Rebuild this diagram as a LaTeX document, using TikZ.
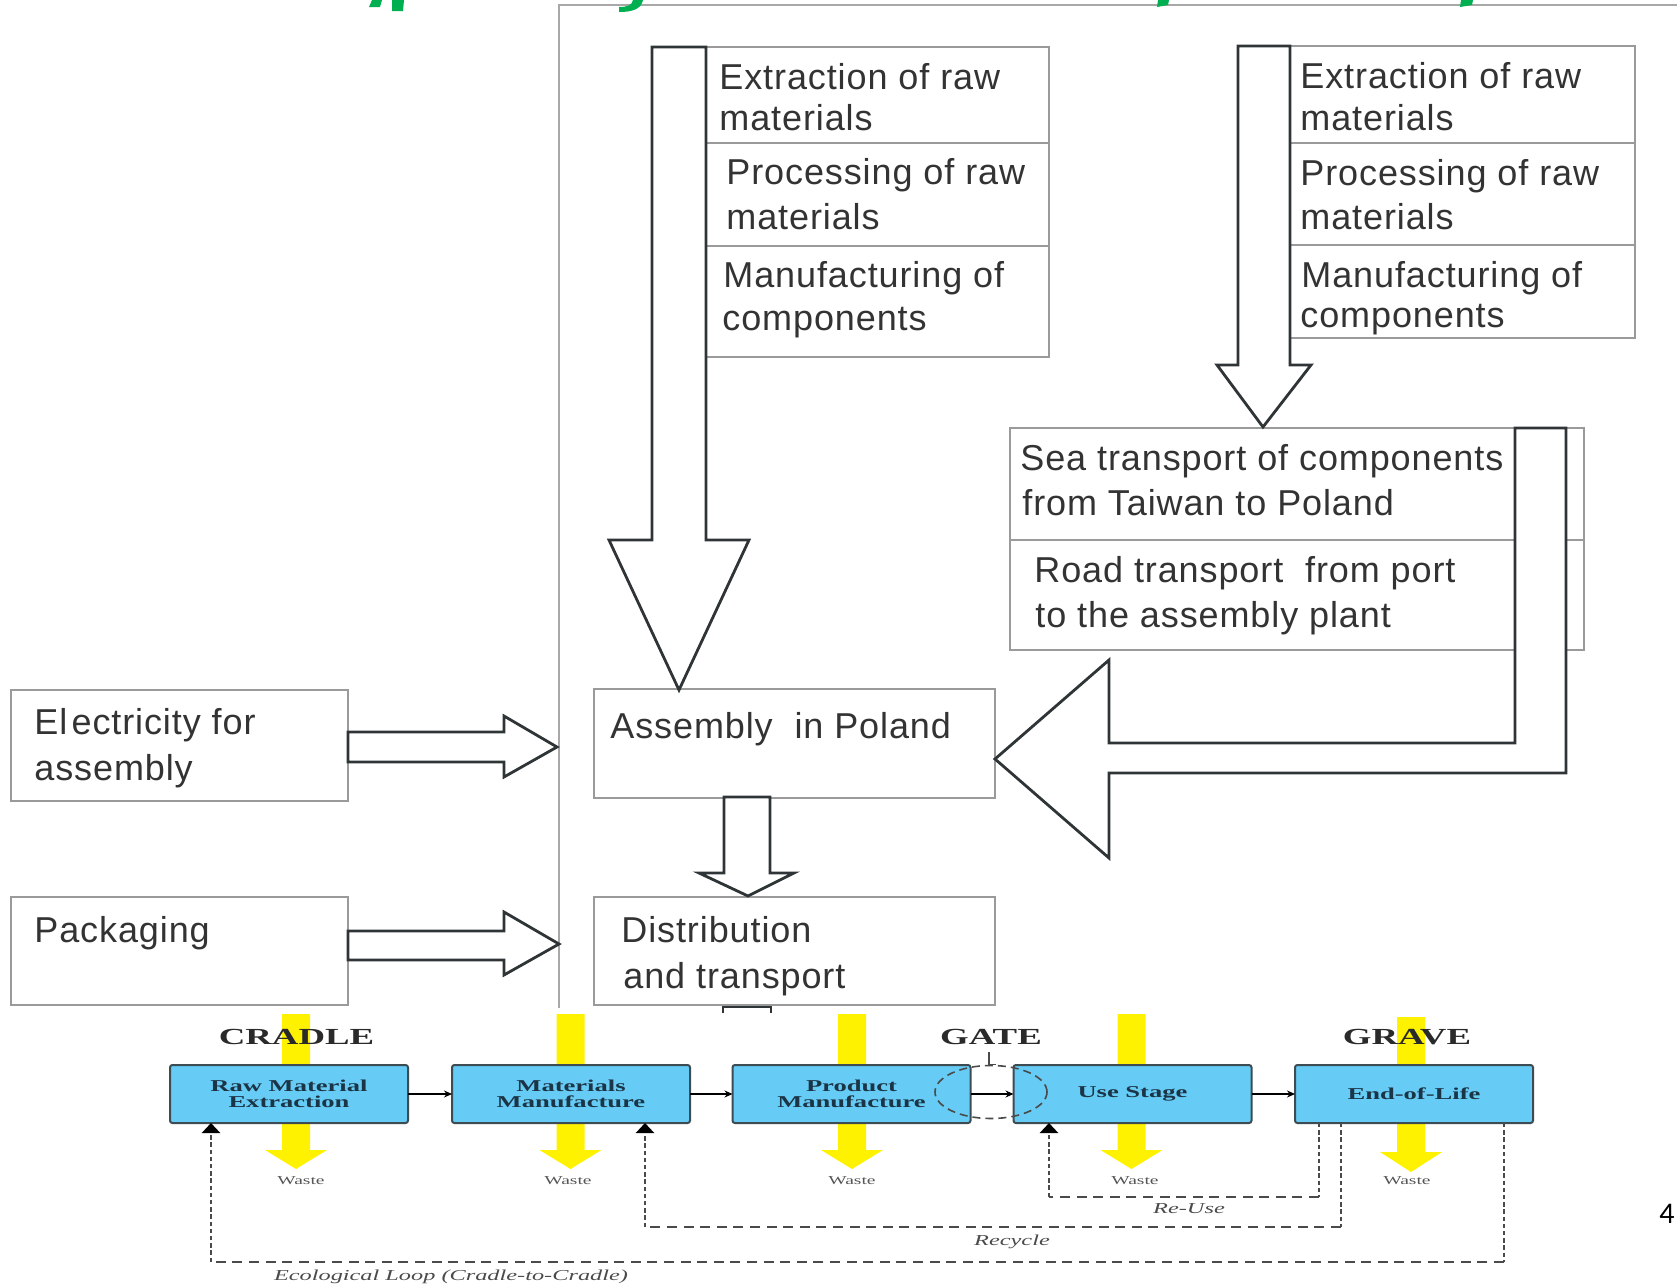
\documentclass[tikz,border=0pt]{standalone}
\usepackage{fontspec}
\usetikzlibrary{arrows.meta,shapes.geometric,fit,calc}
\newfontfamily\upfont{Liberation Sans}[LetterSpace=2.5]
\newfontfamily\lcafont{Liberation Serif}[FakeStretch=1.6]
\newfontfamily\pgnumfont{Carlito}
\definecolor{framegray}{HTML}{A8A8A8}
\definecolor{boxgray}{HTML}{9A9A9A}
\definecolor{arrowdark}{HTML}{2F3436}
\definecolor{txtgray}{HTML}{333333}
\definecolor{titlegreen}{HTML}{00B050}
\definecolor{lcablue}{HTML}{66CCF5}
\definecolor{lcaborder}{HTML}{3D4B53}
\definecolor{lcatext}{HTML}{1B3446}
\definecolor{lcayellow}{HTML}{FFF200}
\definecolor{loopgray}{HTML}{4A4A4A}
\definecolor{headgray}{HTML}{2A2A2A}
\definecolor{wastegray}{HTML}{555555}
\begin{document}
\begin{tikzpicture}[x=0.5pt,y=-0.5pt,
 ubox/.style={draw=boxgray, line width=1pt, inner sep=0pt, outer sep=0pt},
 sepline/.style={draw=boxgray, line width=1pt},
 blockarrow/.style={draw=arrowdark, fill=white, line width=1.4pt, line join=miter},
 utext/.style={font=\upfont\fontsize{18}{21}\selectfont, text=txtgray, inner sep=0pt, anchor=base west},
 framestyle/.style={draw=framegray, line width=1pt},
 lcabox/.style={draw=lcaborder, fill=lcablue, line width=1pt, rounded corners=1.2pt, minimum width=119pt, minimum height=29pt, inner sep=0pt, outer sep=0pt, align=center, font=\lcafont\bfseries\fontsize{8.3}{8}\selectfont, text=lcatext},
 lcahead/.style={font=\lcafont\bfseries\fontsize{11.5}{12}\selectfont, text=headgray, inner sep=0pt, anchor=base},
 lcawaste/.style={font=\lcafont\fontsize{6.1}{7}\selectfont, text=wastegray, inner sep=0pt, anchor=base},
 lcaloop/.style={font=\lcafont\itshape\fontsize{7.6}{8}\selectfont, text=loopgray, inner sep=0pt, anchor=base},
 flow/.style={draw=black, line width=0.8pt, -{Stealth[length=4pt,width=3.5pt]}},
 loopv/.style={draw=loopgray, line width=1.4pt, dash pattern=on 2.2pt off 1.4pt},
 looph/.style={draw=loopgray, line width=1pt, dash pattern=on 5pt off 3.3pt},
 looptip/.style={-{Triangle[width=9pt,length=5pt,black]}},
 gateell/.style={ellipse, draw=loopgray, line width=0.8pt, dash pattern=on 4pt off 2.5pt, minimum width=56pt, minimum height=26.5pt, inner sep=0pt},
 titlebits/.style={fill=titlegreen}
]
\useasboundingbox (0,0) rectangle (1677,1285);
\clip (0,0) rectangle (1677,1285);

% frame
\draw[framestyle] (559,1008) -- (559,5) -- (1677,5);
% green title fragments
\fill[titlebits] (372,0) -- (382,0) -- (380,7) -- (369,7) -- cycle;
\fill[titlebits] (392,0) -- (404,0) -- (403,11) -- (392,11) -- cycle;
\fill[titlebits] (633,0) -- (643,0) .. controls (641,9) and (633,12) .. (619,12) -- (619,7) .. controls (628,7) and (632,5) .. (633,0) -- cycle;
\fill[titlebits] (1158,0) -- (1169,0) -- (1168,5) -- (1157,7) -- cycle;
\fill[titlebits] (1461,0) -- (1473,0) -- (1472,5) -- (1460,7) -- cycle;

% ---------- upper boxes ----------
\node[ubox, fit={(706,47) (1049,357)}] (lstack) {};
\draw[sepline] (706,143) -- (1049,143);
\draw[sepline] (706,246) -- (1049,246);
\node[ubox, fit={(1290,46) (1635,338)}] (rstack) {};
\draw[sepline] (1290,143) -- (1635,143);
\draw[sepline] (1290,245) -- (1635,245);
\node[ubox, fit={(1010,428) (1584,650)}] (sea) {};
\draw[sepline] (1010,540) -- (1584,540);
\node[ubox, fit={(594,689) (995,798)}] (asm) {};
\node[ubox, fit={(594,897) (995,1005)}] (dist) {};
\node[ubox, fit={(11,690) (348,801)}] (elec) {};
\node[ubox, fit={(11,897) (348,1005)}] (pack) {};

% ---------- block arrows ----------
\draw[blockarrow] (652,47) -- (706,47) -- (706,540) -- (749,540) -- (679,690) -- (609,540) -- (652,540) -- cycle;
\draw[blockarrow] (1238,46) -- (1290,46) -- (1290,365) -- (1311,365) -- (1263,427) -- (1217,365) -- (1238,365) -- cycle;
\draw[blockarrow] (1515,428) -- (1566,428) -- (1566,773) -- (1109,773) -- (1109,858) -- (995,759) -- (1109,660) -- (1109,743) -- (1515,743) -- cycle;
\draw[blockarrow] (724,797) -- (770,797) -- (770,873) -- (794,873) -- (748,896) -- (699,873) -- (724,873) -- cycle;
\draw[blockarrow] (348,732) -- (504,732) -- (504,716) -- (557,747) -- (504,777) -- (504,762) -- (348,762) -- cycle;
\draw[blockarrow] (348,931) -- (504,931) -- (504,912) -- (559,944) -- (504,975) -- (504,960) -- (348,960) -- cycle;
\draw[blockarrow, fill=none] (723,1013) -- (723,1007) -- (771,1007) -- (771,1013);

% ---------- upper texts ----------
\node[utext] (l1a) at (719,89) {Extraction of raw};
\node[utext] (l1b) at (719,130) {materials};
\node[utext] (l2a) at (726,184) {Processing of raw};
\node[utext] (l2b) at (726,229) {materials};
\node[utext] (l3a) at (723,287) {Manufacturing of};
\node[utext] (l3b) at (722,330) {components};
\node[utext] (r1a) at (1300,88) {Extraction of raw};
\node[utext] (r1b) at (1300,130) {materials};
\node[utext] (r2a) at (1300,185) {Processing of raw};
\node[utext] (r2b) at (1300,229) {materials};
\node[utext] (r3a) at (1301,287) {Manufacturing of};
\node[utext] (r3b) at (1300,327) {components};
\node[utext] (s1) at (1020,470) {Sea transport of components};
\node[utext] (s2) at (1022,515) {from Taiwan to Poland};
\node[utext] (s3) at (1034,582) {Road transport~ from port};
\node[utext] (s4) at (1035,627) {to the assembly plant};
\node[utext] (a1) at (610,738) {Assembly~ in Poland};
\node[utext] (d1) at (621,942) {Distribution};
\node[utext] (d2) at (623,988) {and transport};
\node[utext] (e1) at (34,734) {El\kern0.12em ectricity for};
\node[utext] (e2) at (34,780) {assembly};
\node[utext] (p1) at (34,942) {Packaging};

% ---------- LCA diagram ----------
\foreach \cx/\ty/\sy/\py in {296/1014/1150/1169, 570.5/1014/1150/1169, 852/1014/1150/1169, 1131.5/1014/1150/1169, 1411/1017/1152/1172}
  \fill[lcayellow] (\cx-14,\ty) -- (\cx+14,\ty) -- (\cx+14,\sy) -- (\cx+31,\sy) -- (\cx,\py) -- (\cx-31,\sy) -- (\cx-14,\sy) -- cycle;

\node[lcahead] (cradle) at (296.5,1044) {CRADLE};
\node[lcahead] (gatelbl) at (991,1044) {GATE};
\node[lcahead] (grave) at (1407,1044) {GRAVE};

\node[lcabox] (raw) at (289,1094) {Raw Material\\Extraction};
\node[lcabox] (mat) at (571,1094) {Materials\\Manufacture};
\node[lcabox] (prod) at (851.5,1094) {Product\\Manufacture};
\node[lcabox] (use) at (1132.5,1094) {Use Stage};
\node[lcabox] (eol) at (1414,1094) {End-of-Life};

\draw[flow] (raw.east) -- (mat.west);
\draw[flow] (mat.east) -- (prod.west);
\draw[flow] (prod.east) -- (use.west);
\draw[flow] (use.east) -- (eol.west);

\node[gateell] (gate) at (991,1092) {};
\draw[draw=loopgray, line width=0.7pt] ($(gate.north)+(-2,0)$) -- ++(0,-13);
\draw[draw=loopgray, line width=0.7pt] ($(gate.north)+(-2,0)$) -- ++(7,0);

% loops
\coordinate (ru1) at ($(eol.south west)+(24,0)$);
\coordinate (ru2) at ($(ru1)+(0,74)$);
\coordinate (ru3) at (1049,1197);
\draw[loopv] (ru1) -- (ru2);
\draw[looph] (ru2) -- (ru3);
\draw[loopv, looptip] (ru3) -- (ru3 |- use.south);

\coordinate (rc1) at ($(eol.south west)+(46,0)$);
\coordinate (rc2) at ($(rc1)+(0,104)$);
\coordinate (rc3) at (645,1227);
\draw[loopv] (rc1) -- (rc2);
\draw[looph] (rc2) -- (rc3);
\draw[loopv, looptip] (rc3) -- (rc3 |- mat.south);

\coordinate (ec1) at ($(eol.south west)+(209,0)$);
\coordinate (ec2) at ($(ec1)+(0,139)$);
\coordinate (ec3) at (211,1262);
\draw[loopv] (ec1) -- (ec2);
\draw[looph] (ec2) -- (ec3);
\draw[loopv, looptip] (ec3) -- (ec3 |- raw.south);

\node[lcawaste] (w1) at (301,1184) {Waste};
\node[lcawaste] (w2) at (568,1184) {Waste};
\node[lcawaste] (w3) at (852,1184) {Waste};
\node[lcawaste] (w4) at (1135,1184) {Waste};
\node[lcawaste] (w5) at (1407,1184) {Waste};

\node[lcaloop] (lreuse) at (1189,1213) {Re-Use};
\node[lcaloop] (lrecycle) at (1012,1245) {Recycle};
\node[lcaloop] (leco) at (451,1280) {Ecological Loop (Cradle-to-Cradle)};

\node[font=\pgnumfont\fontsize{15}{15}\selectfont, text=black, anchor=base east, inner sep=0pt] (pgnum) at (1675,1223) {4};
\end{tikzpicture}
\end{document}
